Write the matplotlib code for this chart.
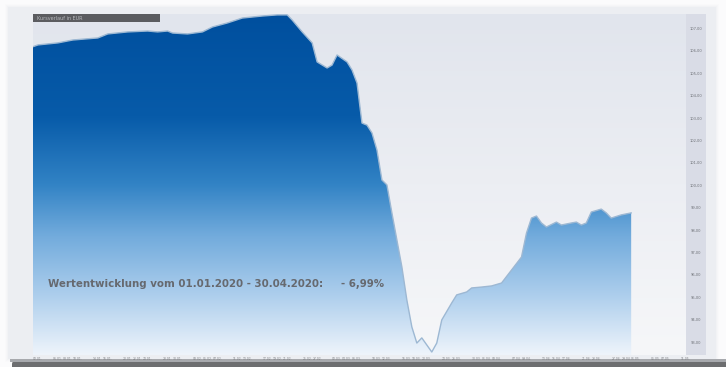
import numpy as np
import pandas as pd
import matplotlib
matplotlib.use("Agg")
import matplotlib.pyplot as plt
import matplotlib.dates as mdates
from matplotlib.colors import LinearSegmentedColormap
from matplotlib.patches import Rectangle, FancyBboxPatch

# Fund price history, 01.01.2020 - 30.04.2020
dates = [
    "2020-01-01", "2020-01-02", "2020-01-06", "2020-01-09", "2020-01-14", "2020-01-16",
    "2020-01-20", "2020-01-24", "2020-01-26", "2020-01-28", "2020-01-29", "2020-02-01",
    "2020-02-04", "2020-02-06", "2020-02-09", "2020-02-12", "2020-02-16", "2020-02-19",
    "2020-02-21", "2020-02-22", "2020-02-24", "2020-02-26", "2020-02-27", "2020-02-29",
    "2020-03-01", "2020-03-02", "2020-03-04", "2020-03-05", "2020-03-06", "2020-03-07",
    "2020-03-08", "2020-03-09", "2020-03-10", "2020-03-11", "2020-03-12", "2020-03-13",
    "2020-03-14", "2020-03-15", "2020-03-16", "2020-03-17", "2020-03-18", "2020-03-19",
    "2020-03-21", "2020-03-22", "2020-03-23", "2020-03-25", "2020-03-26", "2020-03-28",
    "2020-03-29", "2020-03-31", "2020-04-02", "2020-04-04", "2020-04-06", "2020-04-08",
    "2020-04-09", "2020-04-10", "2020-04-11", "2020-04-12", "2020-04-13", "2020-04-15",
    "2020-04-16", "2020-04-18", "2020-04-19", "2020-04-20", "2020-04-21", "2020-04-22",
    "2020-04-24", "2020-04-25", "2020-04-26", "2020-04-28", "2020-04-30",
]
prices = [
    106.21, 106.29, 106.38, 106.51, 106.60, 106.78,
    106.87, 106.91, 106.87, 106.91, 106.82, 106.78,
    106.87, 107.09, 107.27, 107.49, 107.58, 107.63,
    107.63, 107.40, 106.87, 106.38, 105.53, 105.26,
    105.39, 105.84, 105.53, 105.17, 104.59, 102.80,
    102.71, 102.36, 101.60, 100.26, 100.04, 98.79,
    97.58, 96.38, 94.90, 93.70, 92.98, 93.21,
    92.58, 92.98, 94.01, 94.77, 95.13, 95.26,
    95.44, 95.48, 95.53, 95.66, 96.24, 96.82,
    97.89, 98.56, 98.65, 98.34, 98.16, 98.38,
    98.25, 98.34, 98.38, 98.25, 98.34, 98.83,
    98.96, 98.79, 98.56, 98.70, 98.79,
]
price_ticks = [107, 106, 105, 104, 103, 102, 101, 100, 99, 98, 97, 96, 95, 94, 93]
start_label = "01.01.2020"
end_label = "30.04.2020"
perf_label = "- 6,99%"
header_label = "Kursverlauf in EUR"

x = pd.to_datetime(dates)
xn = mdates.date2num(x)
y = np.array(prices)

W, H = 726, 367
fig = plt.figure(figsize=(W / 100, H / 100), dpi=100)
fig.patch.set_facecolor("#fbfbfc")


def fbox(x0, y0, x1, y1):
    # pixel box (top-left origin) -> figure fraction [left, bottom, width, height]
    return [x0 / W, 1 - y1 / H, (x1 - x0) / W, (y1 - y0) / H]


# panel behind the chart, with a soft shadow and a dark base strip
bg = fig.add_axes([0, 0, 1, 1])
bg.set_xlim(0, W)
bg.set_ylim(H, 0)
bg.axis("off")
for i, a in enumerate([0.03, 0.05, 0.07]):
    d = 3 - i
    bg.add_patch(Rectangle((8 - d, 7 - d), 708 + 2 * d, 352 + 2 * d,
                           facecolor="#c9ccd3", alpha=a, edgecolor="none"))
bg.add_patch(Rectangle((8, 7), 708, 352, facecolor="#eceef2", edgecolor="none"))
bg.add_patch(FancyBboxPatch((12, 361), 720, 10, boxstyle="round,pad=0,rounding_size=3",
                            facecolor="#6d6e70", edgecolor="none"))
bg.add_patch(Rectangle((10, 359), 716, 2.5, facecolor="#a7a9ad", edgecolor="none"))

# main chart area
top_px, bot_px = 14, 355
px_per_unit = 22.4
y_top = 107 + (29 - top_px) / px_per_unit
y_bot = 107 - (bot_px - 29) / px_per_unit
x0 = mdates.date2num(pd.Timestamp("2020-01-01"))
x1 = x0 + (686 - 33) / (599 / 120)

ax = fig.add_axes(fbox(33, top_px, 686, bot_px))
ax.set_xlim(x0, x1)
ax.set_ylim(y_bot, y_top)
for s in ax.spines.values():
    s.set_visible(False)

# background gradient of the plotting area
bg_cmap = LinearSegmentedColormap.from_list("bgc", ["#e1e5ed", "#eceef3", "#f6f7f9"])
grad = np.linspace(0, 1, 256).reshape(-1, 1)
ax.imshow(grad, extent=[x0, x1, y_bot, y_top], origin="upper", aspect="auto",
          cmap=bg_cmap, zorder=0, interpolation="bicubic")

# filled area with vertical blue gradient
fill_cmap = LinearSegmentedColormap.from_list(
    "fillc",
    [(0.0, "#004f9e"), (0.3, "#075ba9"), (0.5, "#3283c5"), (0.65, "#72abdc"),
     (0.82, "#abcdec"), (1.0, "#eef4fb")])
poly = ax.fill_between(xn, y, y_bot, facecolor="none", edgecolor="none", zorder=1)
im = ax.imshow(grad, extent=[x0, x1, y_bot, y_top], origin="upper", aspect="auto",
               cmap=fill_cmap, zorder=2, interpolation="bicubic")
im.set_clip_path(poly.get_paths()[0], transform=ax.transData)
ax.plot(xn, y, color="#9db8d3", lw=1.0, zorder=3, solid_joinstyle="round")

# x tick labels: every second business day
bdays = pd.bdate_range("2020-01-02", "2020-05-11")[::2]
ax.set_xticks(mdates.date2num(bdays))
ax.set_xticklabels([d.strftime("%d.%m.") for d in bdays], fontsize=2.2, color="#7a7c80")
ax.tick_params(axis="x", length=0, pad=1.2)
ax.set_yticks([])

# performance annotation
ax.text(0.023, 0.208, f"Wertentwicklung vom {start_label} - {end_label}:",
        transform=ax.transAxes, fontsize=7.4, color="#66696f", fontweight="semibold",
        va="center", ha="left", zorder=5)
ax.text(0.471, 0.208, perf_label, transform=ax.transAxes, fontsize=7.4,
        color="#66696f", fontweight="semibold", va="center", ha="left", zorder=5)

# right-hand price scale band
band = fig.add_axes(fbox(686, top_px, 706, bot_px))
band.set_facecolor("#d9dce6")
band.set_ylim(y_bot, y_top)
band.set_xlim(0, 1)
band.set_xticks([])
band.set_yticks([])
for s in band.spines.values():
    s.set_visible(False)
for t in price_ticks:
    band.text(0.5, t, f"{t:,.2f}".replace(".", ","), fontsize=2.6, color="#6f7278",
              ha="center", va="center")

# header bar
hdr = fig.add_axes(fbox(33, 14, 160, 22))
hdr.set_facecolor("#5b5c60")
hdr.set_xticks([])
hdr.set_yticks([])
for s in hdr.spines.values():
    s.set_visible(False)
hdr.text(0.03, 0.5, header_label, fontsize=3.5, color="#b8babe", va="center", ha="left")

fig.savefig("out.png", dpi=100, facecolor=fig.get_facecolor())
